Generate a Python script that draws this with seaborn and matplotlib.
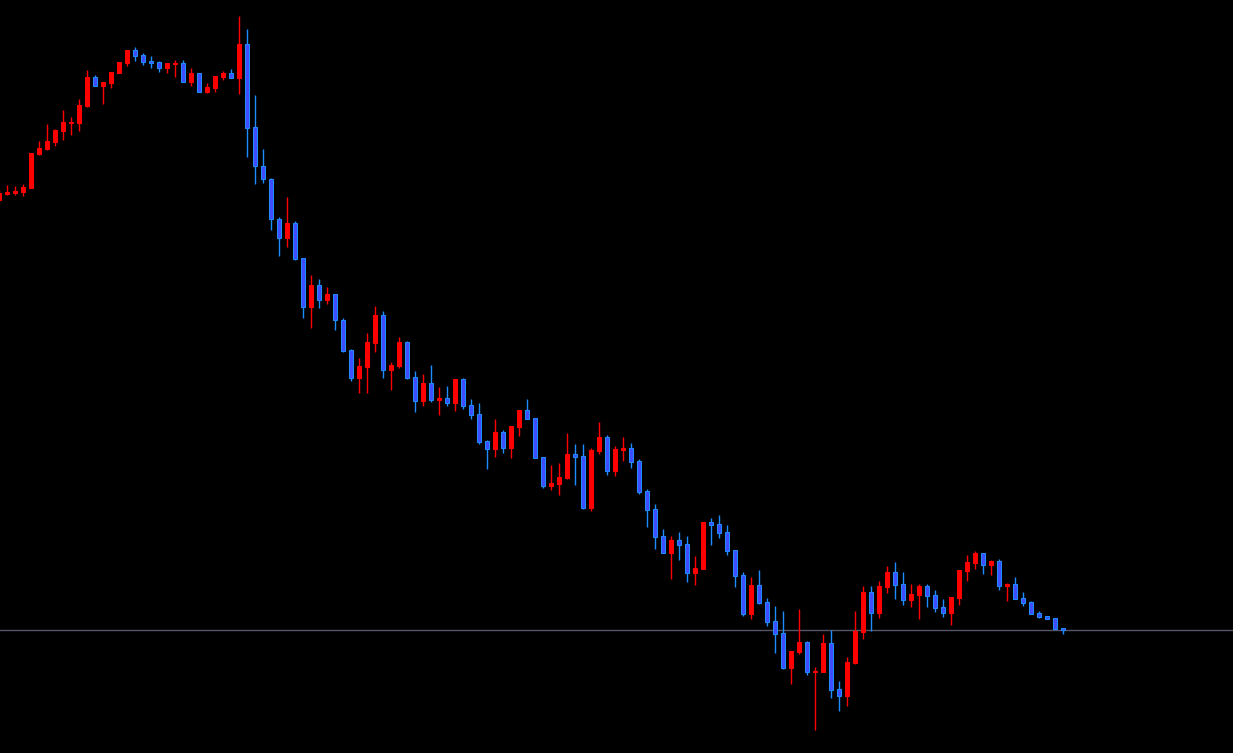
import numpy as np
import pandas as pd
import matplotlib
matplotlib.use('Agg')
import matplotlib.pyplot as plt
import seaborn as sns

sns.set_theme(style='dark', rc={'axes.facecolor': 'black', 'figure.facecolor': 'black'})

# candle data (price units)
opens = [553, 559.5, 560, 561.3, 565.3, 599.3, 604, 611.3, 622.3, 630.3,
         630.3, 647, 676, 667.3, 670, 680, 690, 703, 698, 692,
         691, 685.3, 689.5, 690, 671.3, 680, 661.3, 665.3, 676, 680,
         675.3, 709, 625.7, 586.7, 573.7, 533.7, 514.7, 530, 494.7, 446.3,
         468, 453.3, 459, 433, 403, 375.3, 386.3, 410.3, 438, 383.3,
         387, 411, 376, 352.3, 370, 353.3, 355, 350, 374, 348,
         339, 312, 304.3, 321, 305.3, 326.3, 343, 335, 296, 267.3,
         269.3, 275.3, 299, 297, 245.3, 302, 316, 282.3, 303.3, 305,
         292, 262, 244, 217, 200.3, 213, 209, 180.3, 184.3, 231,
         229, 221, 203, 178, 139.3, 168, 151, 132, 120, 85.3,
         101.3, 111, 81.5, 81.3, 110, 64, 57.3, 90, 121.3, 161,
         140.3, 166.3, 181, 169, 153.3, 158.3, 167, 158, 146, 140.3,
         155.3, 182, 190, 200, 188.3, 192, 167.3, 169, 155, 151,
         140, 137, 135, 125]
highs = [563, 568, 567, 569, 600, 612, 629, 624, 643, 636,
         654, 683, 678, 671, 681, 691, 703, 706, 700, 697,
         692, 690, 693, 693, 685, 680, 670, 677, 682, 684,
         737, 724, 658, 604, 575, 536, 556, 532, 495, 478,
         474, 466, 459, 435, 404, 395, 420, 447, 442, 391,
         416, 412, 382, 379, 388, 366, 367, 374, 375, 354,
         350, 313, 334, 323, 327, 343, 354, 335, 296, 288,
         290, 320, 309, 309, 305, 331, 318, 307, 316, 310,
         294, 264, 249, 224, 217, 221, 217, 197, 231, 235,
         238, 228, 203, 181, 176, 183, 155, 147, 142, 102,
         144, 112, 86, 119, 123, 72, 96, 142, 167, 167,
         172, 187, 191, 181, 169, 169, 169, 163, 154, 156,
         183, 198, 202, 200, 193, 194, 170.3, 176, 161, 152,
         142, 137, 135, 125]
lows = [552, 558, 558, 557.3, 565, 598.3, 603, 607.3, 613.3, 618.3,
        622.3, 646, 667, 649.3, 665.3, 680, 687.3, 692, 688, 685,
        681, 680, 676, 671, 667.3, 661.3, 660, 661.3, 673, 675,
        659.3, 596.3, 569.3, 570.3, 523.3, 497.3, 506.3, 493.3, 435.3, 425,
        445.3, 449.3, 423, 401.3, 372.3, 360.3, 360.3, 401.3, 375.3, 363.3,
        385.3, 374.3, 341.3, 347.3, 351.3, 338.3, 347, 342, 344.3, 334.3,
        309.3, 284.3, 296.3, 300.3, 295.3, 317.3, 334.3, 295, 265.3, 263.3,
        258.3, 274.3, 268.3, 244.3, 242.3, 299, 278.3, 277.3, 292.3, 285.3,
        259.3, 226.3, 204.3, 200, 174.3, 193.3, 171.3, 168.3, 184.3, 208.3,
        215.3, 198.3, 166.3, 137.3, 134.3, 149.3, 127.3, 100.3, 84.3, 69.3,
        99.3, 78.3, 23.3, 81.3, 55.3, 42.3, 47.3, 89.3, 114.3, 122.3,
        135.3, 160.3, 154.3, 148.3, 146.3, 134.3, 146.3, 141.3, 136.3, 128.3,
        148.3, 172.3, 184.3, 179.3, 178.3, 163.3, 152.3, 154.3, 147.3, 139.3,
        135.3, 134.3, 124.3, 119.3]
closes = [560, 561, 562, 566, 600, 605, 612, 623, 631, 631.3,
          648, 676, 667.3, 671, 681, 691, 703, 697.3, 691.3, 690.3,
          685.3, 690, 690, 671.3, 680, 661.3, 666, 677, 680, 675.3,
          709, 625.3, 586.7, 573.7, 533.7, 514.7, 530, 494.3, 446.3, 468,
          453.3, 459, 432.7, 402, 375.3, 387, 411, 438, 383.3, 388,
          411, 375.3, 352.3, 370, 353.3, 355, 350, 374, 347.3, 338.3,
          311.3, 304.3, 321, 305.3, 327, 343, 334.3, 295.3, 267.3, 270,
          276, 299, 296.3, 245.3, 303, 316, 282.3, 304, 305, 291.3,
          261.3, 243.3, 216.3, 200.3, 213, 208.3, 180.3, 185, 231, 228.3,
          220.3, 202.3, 177.3, 139.3, 168, 150.3, 131.3, 119.3, 85.3, 102,
          111, 81.3, 82, 110, 63.3, 57.3, 91, 122, 161, 140.3,
          167, 181, 168.3, 153.3, 159, 167, 157.3, 145.3, 140.3, 156,
          183, 191, 200, 188.3, 192, 167.3, 169.3, 154.3, 150.3, 139.3,
          136.3, 134.3, 124.3, 123.5]

df = pd.DataFrame({'open': opens, 'high': highs, 'low': lows, 'close': closes})
df['idx'] = np.arange(len(df))
up = df['close'] >= df['open']

UP_COLOR = '#ff0000'
DOWN_FILL = '#3f4cff'
DOWN_EDGE = '#1e8cff'

fig = plt.figure(figsize=(12.33, 7.53), dpi=100)
ax = fig.add_axes([0, 0, 1, 1])
ax.set_facecolor('black')

# wicks
ax.vlines(df['idx'][up], df['low'][up], df['high'][up], color=UP_COLOR, lw=1)
ax.vlines(df['idx'][~up], df['low'][~up], df['high'][~up], color=DOWN_EDGE, lw=1)

# bodies
body = np.maximum((df['close'] - df['open']).abs(), 1.0)
bottom = df[['open', 'close']].min(axis=1)
ax.bar(df['idx'][up], body[up], bottom=bottom[up], width=0.5,
       color=UP_COLOR, edgecolor=UP_COLOR, linewidth=0.75, zorder=3)
ax.bar(df['idx'][~up], body[~up], bottom=bottom[~up], width=0.5,
       color=DOWN_FILL, edgecolor=DOWN_EDGE, linewidth=0.75, zorder=3)

# current price line
ax.axhline(df['close'].iloc[-1], color='#56566a', lw=1, zorder=1)

ax.set_xlim(0.0875, 0.0875 + 1233 / 8)
ax.set_ylim(0, 753)
ax.set_xticks([])
ax.set_yticks([])
for s in ax.spines.values():
    s.set_visible(False)

fig.savefig('out.png', dpi=100, facecolor='black')
